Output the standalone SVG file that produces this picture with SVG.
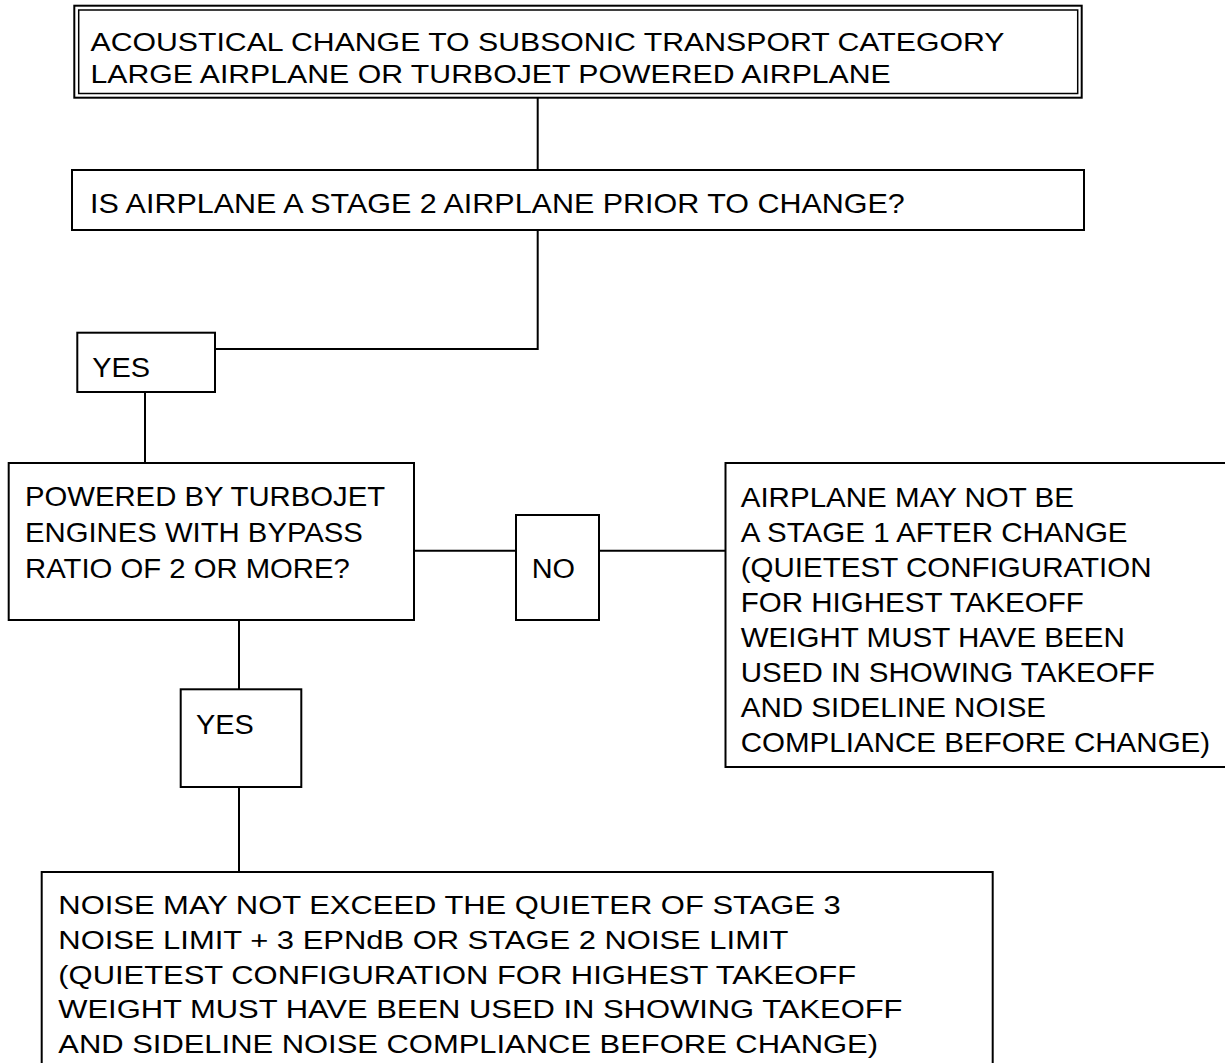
<svg xmlns="http://www.w3.org/2000/svg" width="1225" height="1063" viewBox="0 0 1225 1063">
<style>
.box{fill:#fff;stroke:#000;stroke-width:2}
.thin{fill:none;stroke:#000;stroke-width:1.5}
.ln{fill:none;stroke:#000;stroke-width:2}
.t{font-family:"Liberation Sans",Arial,Helvetica,sans-serif;fill:#000;transform-box:fill-box;transform-origin:0 0}
.top{font-size:25px;transform:scaleX(1.21)}
.q2{font-size:28.5px;transform:scaleX(1.07)}
.pw{font-size:27px;transform:scaleX(1.085)}
.lab{font-size:27px;transform:scaleX(1.07)}
.rt{font-size:27.5px;transform:scaleX(1.075)}
.bt{font-size:26px;transform:scaleX(1.19)}
</style>
<rect width="1225" height="1063" fill="#fff"/>
<g id="connectors">
<line class="ln" x1="537.7" y1="98" x2="537.7" y2="170"/>
<polyline class="ln" points="537.7,230 537.7,349 215,349"/>
<line class="ln" x1="145" y1="392" x2="145" y2="463"/>
<line class="ln" x1="414" y1="550.7" x2="516" y2="550.7"/>
<line class="ln" x1="599" y1="550.7" x2="725.5" y2="550.7"/>
<line class="ln" x1="239" y1="620" x2="239" y2="689.3"/>
<line class="ln" x1="239" y1="787" x2="239" y2="872"/>
</g>
<g id="start">
<rect class="box" x="74.3" y="5.7" width="1007.4" height="92"/>
<rect class="thin" x="78.7" y="10" width="999" height="83.5"/>
<text class="t top" x="90.5" y="50.7"><tspan x="90.5">ACOUSTICAL CHANGE TO SUBSONIC TRANSPORT CATEGORY</tspan><tspan x="90.5" y="83.3">LARGE AIRPLANE OR TURBOJET POWERED AIRPLANE</tspan></text>
</g>
<g id="q-stage2">
<rect class="box" x="72" y="170" width="1012" height="60"/>
<text class="t q2" x="90" y="213">IS AIRPLANE A STAGE 2 AIRPLANE PRIOR TO CHANGE?</text>
</g>
<g id="yes1">
<rect class="box" x="77.3" y="332.7" width="137.7" height="59.3"/>
<text class="t lab" x="92.3" y="376.7">YES</text>
</g>
<g id="q-bypass">
<rect class="box" x="8.7" y="463" width="405.3" height="157"/>
<text class="t pw" x="25" y="506"><tspan x="25">POWERED BY TURBOJET</tspan><tspan x="25" y="541.8">ENGINES WITH BYPASS</tspan><tspan x="25" y="577.6">RATIO OF 2 OR MORE?</tspan></text>
</g>
<g id="no">
<rect class="box" x="516" y="515" width="83" height="105"/>
<text class="t lab" x="531.7" y="578.3">NO</text>
</g>
<g id="stage1">
<rect class="box" x="725.5" y="463" width="520" height="304"/>
<text class="t rt" x="740.7" y="507.5"><tspan x="740.7">AIRPLANE MAY NOT BE</tspan><tspan x="740.7" y="542.5">A STAGE 1 AFTER CHANGE</tspan><tspan x="740.7" y="577.5">(QUIETEST CONFIGURATION</tspan><tspan x="740.7" y="612.4">FOR HIGHEST TAKEOFF</tspan><tspan x="740.7" y="647.3">WEIGHT MUST HAVE BEEN</tspan><tspan x="740.7" y="682">USED IN SHOWING TAKEOFF</tspan><tspan x="740.7" y="717">AND SIDELINE NOISE</tspan><tspan x="740.7" y="752">COMPLIANCE BEFORE CHANGE)</tspan></text>
</g>
<g id="yes2">
<rect class="box" x="180.7" y="689.3" width="120.6" height="97.7"/>
<text class="t lab" x="196" y="734.3">YES</text>
</g>
<g id="stage3">
<rect class="box" x="41.7" y="872" width="951" height="210"/>
<text class="t bt" x="58.3" y="914"><tspan x="58.3">NOISE MAY NOT EXCEED THE QUIETER OF STAGE 3</tspan><tspan x="58.3" y="948.8">NOISE LIMIT + 3 EPNdB OR STAGE 2 NOISE LIMIT</tspan><tspan x="58.3" y="983.6">(QUIETEST CONFIGURATION FOR HIGHEST TAKEOFF</tspan><tspan x="58.3" y="1018.4">WEIGHT MUST HAVE BEEN USED IN SHOWING TAKEOFF</tspan><tspan x="58.3" y="1053.2">AND SIDELINE NOISE COMPLIANCE BEFORE CHANGE)</tspan></text>
</g>
</svg>
